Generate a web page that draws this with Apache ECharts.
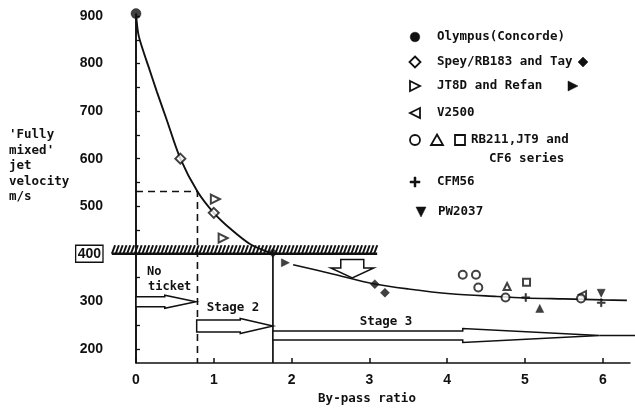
<!DOCTYPE html>
<html><head><meta charset="utf-8">
<script src="https://cdn.jsdelivr.net/npm/echarts@6/dist/echarts.min.js"></script>
<style>html,body{margin:0;padding:0;background:#fff}#c{width:635px;height:410px}</style>
</head><body><div id="c"></div>
<script>
// ---- data ----
const xTicks = [0, 1, 2, 3, 4, 5, 6];
const yTicks = [200, 300, 400, 500, 600, 700, 800, 900];
const yTickMarks = [200, 250, 300, 350, 400, 450, 500, 550, 600, 650, 700, 750, 800, 850, 900];
const curveHigh = [[0,905],[0.03,862],[0.09,828],[0.16,794],[0.27,740],[0.39,684],[0.57,600],[0.79,531],[1.0,486],[1.21,453],[1.47,420],[1.76,400]];
const curveLow = [[2.02,377],[2.54,357],[3.05,337],[3.5,326],[4.04,316],[4.64,310],[5.0,307],[5.5,305],[6.0,303],[6.31,302]];
const zeroLine = [[0,170],[0,905]];
const stageBoundary = [[1.76,170],[1.76,400]];
const ticketLimitH = [[-0.32,531],[0,531]];
const ticketLimitDash = [[0,531],[0.79,531],[0.79,170]];
const hatchBand = [[-0.31, 3.1, 400]];
const stageArrows = [[0, 0.37, 0.77, 299], [0.78, 1.34, 1.76, 248], [1.76, 4.2, 5.96, 228]];
const downArrow = [[2.78, 388, 370, 349]];
const olympus = [[0, 905]];
const spey = [[0.57, 600], [1.0, 486]];
const tay = [[1.76, 402], [3.07, 336], [3.2, 318]];
const jt8d = [[1.02, 515], [1.12, 433]];
const refan = [[1.92, 381]];
const v2500 = [[5.74, 314]];
const rbCircle = [[4.2, 356], [4.37, 356], [4.4, 329], [4.75, 308], [5.72, 306]];
const rbTriangle = [[4.77, 331]];
const rbSquare = [[5.02, 340]];
const rbTriangleFilled = [[5.19, 285]];
const cfm56 = [[5.01, 308], [5.98, 297]];
const pw2037 = [[5.98, 317]];
const legendLabels = ['Olympus(Concorde)', 'Spey/RB183 and Tay', 'JT8D and Refan', 'V2500', 'RB211,JT9 and', 'CF6 series', 'CFM56', 'PW2037'];
const yAxisName = ["'Fully", "mixed'", 'jet', 'velocity', 'm/s'];
const stageTexts = ['No', 'ticket', 'Stage 2', 'Stage 3'];

// ---- style ----
const K = '#111';
const MONO = '"DejaVu Sans Mono","Liberation Mono",monospace';
const NUM = '"Liberation Sans Narrow","Liberation Sans",Arial,sans-serif';
const PLUS = 'path://M4,0L6,0L6,4L10,4L10,6L6,6L6,10L4,10L4,6L0,6L0,4L4,4Z';

const chart = echarts.init(document.getElementById('c'), null, {renderer: 'canvas'});

function lineSeries(data, opts) {
  return Object.assign({type: 'line', data, symbol: 'none', clip: false, silent: true,
    lineStyle: {color: K, width: 1.6}, z: 3}, opts || {});
}
function scatter(data, symbol, size, filled, rotate) {
  return {type: 'scatter', data, symbol, symbolSize: size, symbolRotate: rotate || 0, clip: false, z: 6,
    itemStyle: filled ? {color: K, borderColor: K, borderWidth: 0.5} : {color: '#fff', borderColor: K, borderWidth: 2}};
}

const arrowSizes = [[5, 6.5], [6, 7.5], [4.5, 7]];

function txt(x, y, s, extra) {
  return {type: 'text', x, y, z: 10, style: Object.assign({text: s, fill: K,
    font: 'bold 12.5px ' + MONO, textAlign: 'left', textVerticalAlign: 'middle',
    align: 'left', verticalAlign: 'middle'}, extra || {})};
}
const hollow = {fill: '#fff', stroke: K, lineWidth: 1.8};
const solid = {fill: K, stroke: K, lineWidth: 0.5};
const LX = 415, TX = 437;
const rows = [37, 62, 86, 113, 140, 159, 182, 212];
const graphics = [
  {type: 'circle', shape: {cx: LX, cy: rows[0], r: 4.8}, style: solid},
  txt(TX, rows[0], legendLabels[0]),
  {type: 'polygon', shape: {points: [[LX, rows[1]-5.5], [LX+5.5, rows[1]], [LX, rows[1]+5.5], [LX-5.5, rows[1]]]}, style: hollow},
  txt(TX, rows[1], legendLabels[1]),
  {type: 'polygon', shape: {points: [[583, rows[1]-5], [588, rows[1]], [583, rows[1]+5], [578, rows[1]]]}, style: solid},
  {type: 'polygon', shape: {points: [[LX-5, rows[2]-5], [LX+5, rows[2]], [LX-5, rows[2]+5]]}, style: hollow},
  txt(TX, rows[2], legendLabels[2]),
  {type: 'polygon', shape: {points: [[568, rows[2]-5], [578, rows[2]], [568, rows[2]+5]]}, style: solid},
  {type: 'polygon', shape: {points: [[LX+5, rows[3]-5], [LX-5, rows[3]], [LX+5, rows[3]+5]]}, style: hollow},
  txt(TX, rows[3], legendLabels[3]),
  {type: 'circle', shape: {cx: LX, cy: rows[4], r: 5}, style: hollow},
  {type: 'polygon', shape: {points: [[437, rows[4]-5.5], [443, rows[4]+5], [431, rows[4]+5]]}, style: hollow},
  {type: 'rect', shape: {x: 455, y: rows[4]-5, width: 10, height: 10}, style: hollow},
  txt(471, rows[4], legendLabels[4]),
  txt(489, rows[5], legendLabels[5]),
  {type: 'polygon', shape: {points: [[LX-1, rows[6]-5], [LX+1, rows[6]-5], [LX+1, rows[6]-1], [LX+5, rows[6]-1], [LX+5, rows[6]+1], [LX+1, rows[6]+1], [LX+1, rows[6]+5], [LX-1, rows[6]+5], [LX-1, rows[6]+1], [LX-5, rows[6]+1], [LX-5, rows[6]-1], [LX-1, rows[6]-1]]}, style: solid},
  txt(TX, rows[6], legendLabels[6]),
  {type: 'polygon', shape: {points: [[LX+1, rows[7]-5], [LX+11, rows[7]-5], [LX+6, rows[7]+5]]}, style: solid},
  txt(TX + 1, rows[7], legendLabels[7]),
  txt(9, 127, yAxisName.join('\n'), {textVerticalAlign: 'top', verticalAlign: 'top', lineHeight: 15.5}),
  txt(147, 272, stageTexts[0], {font: 'bold 12px ' + MONO}),
  txt(148, 287, stageTexts[1], {font: 'bold 12px ' + MONO}),
  txt(233, 308, stageTexts[2], {textAlign: 'center', align: 'center'}),
  txt(386, 322, stageTexts[3], {textAlign: 'center', align: 'center'})
];

const option = {
  animation: false,
  backgroundColor: '#fff',
  grid: {left: 136, right: 5, top: 16, bottom: 44},
  xAxis: {
    type: 'value', min: 0, max: 6.35,
    axisLine: {show: true, lineStyle: {color: K, width: 1.5}},
    axisTick: {show: true, inside: true, length: 5, customValues: xTicks, lineStyle: {color: K, width: 1.5}},
    axisLabel: {customValues: xTicks, margin: 10, color: K, fontSize: 14, fontWeight: 'bold', fontFamily: NUM},
    splitLine: {show: false},
    name: 'By-pass ratio', nameLocation: 'middle', nameGap: 28,
    nameTextStyle: {color: K, fontSize: 12.5, fontWeight: 'bold', fontFamily: MONO, padding: [0, 32, 0, 0]}
  },
  yAxis: {
    type: 'value', min: 170, max: 900, offset: 25,
    axisLine: {show: true, lineStyle: {color: K, width: 1.5}},
    axisTick: {show: true, inside: true, length: 4, customValues: yTickMarks, lineStyle: {color: K, width: 1.3}},
    axisLabel: {customValues: yTicks, margin: 8, color: K, fontSize: 14, fontWeight: 'bold', fontFamily: NUM,
      formatter: v => v === 400 ? '{box|400}' : String(v),
      rich: {box: {color: K, fontSize: 14, fontWeight: 'bold', fontFamily: NUM, borderColor: K, borderWidth: 1.3, padding: [2, 2, 1, 2]}}},
    splitLine: {show: false}
  },
  graphic: graphics,
  series: [
    lineSeries(curveHigh, {smooth: 0.3, lineStyle: {color: K, width: 1.9}}),
    lineSeries(curveLow, {smooth: 0.3, lineStyle: {color: K, width: 1.6}}),
    lineSeries(zeroLine, {lineStyle: {color: K, width: 1.7}}),
    lineSeries(stageBoundary, {lineStyle: {color: K, width: 1.7}}),
    lineSeries(ticketLimitH, {lineStyle: {color: K, width: 1.3}}),
    lineSeries(ticketLimitDash, {lineStyle: {color: K, width: 1.6, type: [7, 5]}}),
    {type: 'custom', data: hatchBand, clip: false, silent: true, z: 4,
      renderItem: (params, api) => {
        const a = api.coord([api.value(0), api.value(2)]);
        const b = api.coord([api.value(1), api.value(2)]);
        const ch = [{type: 'line', shape: {x1: a[0], y1: a[1], x2: b[0], y2: b[1]}, style: {stroke: K, lineWidth: 2.4}}];
        for (let x = a[0]; x < b[0] - 3; x += 3.8) {
          ch.push({type: 'line', shape: {x1: x, y1: a[1], x2: x + 3.2, y2: a[1] - 8.5}, style: {stroke: K, lineWidth: 2}});
        }
        return {type: 'group', children: ch};
      }},
    {type: 'custom', data: stageArrows, clip: false, silent: true, z: 4,
      renderItem: (params, api) => {
        const s = api.coord([api.value(0), api.value(3)]);
        const h = api.coord([api.value(1), api.value(3)]);
        const t = api.coord([api.value(2), api.value(3)]);
        const [sh, hh] = arrowSizes[params.dataIndex];
        const cy = s[1];
        const pts = [[s[0], cy - sh], [h[0], cy - sh], [h[0], cy - hh], [t[0], cy], [h[0], cy + hh], [h[0], cy + sh], [s[0], cy + sh]];
        const ch = [{type: 'polygon', shape: {points: pts}, style: {fill: '#fff', stroke: K, lineWidth: 1.5}}];
        if (params.dataIndex === 2) {
          ch.push({type: 'line', shape: {x1: t[0], y1: cy, x2: t[0] + 40, y2: cy}, style: {stroke: K, lineWidth: 1.5}});
        }
        return {type: 'group', children: ch};
      }},
    {type: 'custom', data: downArrow, clip: false, silent: true, z: 4,
      renderItem: (params, api) => {
        const top = api.coord([api.value(0), api.value(1)]);
        const hs = api.coord([api.value(0), api.value(2)]);
        const tip = api.coord([api.value(0), api.value(3)]);
        const cx = top[0], sw = 11.5, hw = 21.5;
        const pts = [[cx - sw, top[1]], [cx + sw, top[1]], [cx + sw, hs[1]], [cx + hw, hs[1]], [cx, tip[1]], [cx - hw, hs[1]], [cx - sw, hs[1]]];
        return {type: 'polygon', shape: {points: pts}, style: {fill: '#fff', stroke: K, lineWidth: 1.5}};
      }},
    scatter(olympus, 'circle', 10, true),
    scatter(spey, 'diamond', 10, false),
    scatter(tay, 'diamond', 9, true),
    scatter(jt8d, 'triangle', 9, false, -90),
    scatter(refan, 'triangle', 8, true, -90),
    scatter(v2500, 'triangle', 7, false, 90),
    scatter(rbCircle, 'circle', 8, false),
    scatter(rbTriangle, 'triangle', 7, false),
    scatter(rbSquare, 'rect', 7, false),
    scatter(rbTriangleFilled, 'triangle', 8, true),
    scatter(cfm56, PLUS, 8, true),
    scatter(pw2037, 'triangle', 8, true, 180)
  ]
};
chart.setOption(option);
</script>
</body></html>
